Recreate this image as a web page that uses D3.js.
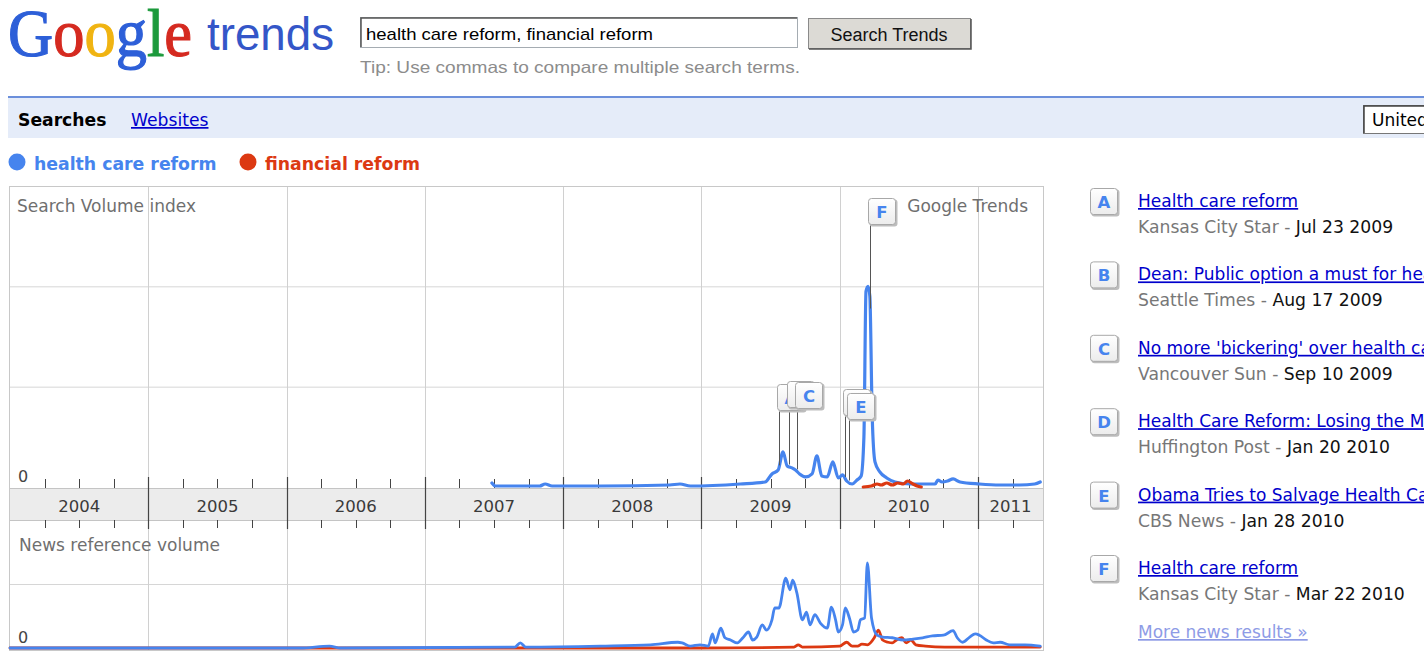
<!DOCTYPE html>
<html>
<head>
<meta charset="utf-8">
<script src="https://cdn.jsdelivr.net/npm/d3@7"></script>
<style>
  body { margin: 0; background: #fff; overflow: hidden; }
  svg { display: block; }
</style>
</head>
<body>
<svg id="page" width="1424" height="652"></svg>
<script>
// ---- data (dates as decimal years) ----
const years = [2004, 2005, 2006, 2007, 2008, 2009, 2010, 2011];
const seriesNames = ["health care reform", "financial reform"];

// search volume index
const searchHealthDates = [2007.485, 2007.51, 2007.83, 2007.87, 2007.92, 2008.27, 2008.77, 2008.845, 2008.92, 2009.28,
  2009.46, 2009.51, 2009.555, 2009.59, 2009.62, 2009.655, 2009.68, 2009.71, 2009.755, 2009.80,
  2009.835, 2009.87, 2009.91, 2009.95, 2009.99, 2010.02, 2010.05, 2010.09, 2010.125, 2010.155,
  2010.175, 2010.19, 2010.205, 2010.218, 2010.235, 2010.255, 2010.29, 2010.34, 2010.40, 2010.51,
  2010.69, 2010.71, 2010.74, 2010.78, 2010.82, 2010.87, 2011.01, 2011.16, 2011.30, 2011.41, 2011.45];
const searchHealthValues = [0.04, 0.01, 0.01, 0.03, 0.01, 0.01, 0.02, 0.03, 0.01, 0.03,
  0.05, 0.13, 0.17, 0.35, 0.21, 0.19, 0.17, 0.13, 0.10, 0.13,
  0.31, 0.11, 0.10, 0.25, 0.09, 0.12, 0.06, 0.03, 0.07, 0.11,
  0.5, 1.95, 2.0, 1.9, 0.7, 0.25, 0.15, 0.09, 0.05, 0.03,
  0.03, 0.07, 0.05, 0.06, 0.08, 0.05, 0.03, 0.02, 0.02, 0.03, 0.05];
const searchFinanceDates = [2010.17, 2010.23, 2010.27, 2010.30, 2010.34, 2010.38, 2010.42, 2010.46, 2010.49, 2010.53, 2010.56, 2010.59];
const searchFinanceValues = [0.0, 0.01, 0.03, 0.02, 0.04, 0.02, 0.04, 0.03, 0.06, 0.03, 0.01, 0.0];

// news reference volume
const newsHealthDates = [2004.0, 2006.1, 2006.31, 2006.39, 2007.65, 2007.69, 2007.73, 2008.27, 2008.63, 2008.83,
  2008.86, 2008.92, 2008.99, 2009.05, 2009.08, 2009.10, 2009.14, 2009.17, 2009.21, 2009.26,
  2009.30, 2009.34, 2009.37, 2009.40, 2009.44, 2009.47, 2009.51, 2009.53, 2009.56, 2009.61,
  2009.64, 2009.66, 2009.69, 2009.73, 2009.76, 2009.785, 2009.82, 2009.86, 2009.91, 2009.94,
  2009.97, 2009.99, 2010.02, 2010.04, 2010.07, 2010.10, 2010.13, 2010.15, 2010.18, 2010.20,
  2010.23, 2010.27, 2010.31, 2010.38, 2010.46, 2010.53, 2010.60, 2010.67, 2010.75, 2010.82,
  2010.85, 2010.89, 2010.94, 2010.98, 2011.01, 2011.06, 2011.11, 2011.16, 2011.23, 2011.34, 2011.45];
const newsHealthValues = [0, 0, 0.03, 0, 0.015, 0.08, 0.015, 0.03, 0.05, 0.09,
  0.08, 0.03, 0.05, 0.03, 0.22, 0.08, 0.31, 0.16, 0.125, 0.08,
  0.16, 0.25, 0.125, 0.17, 0.36, 0.28, 0.44, 0.625, 0.625, 1.09,
  0.91, 1.06, 0.86, 0.44, 0.56, 0.36, 0.52, 0.39, 0.31, 0.64,
  0.44, 0.25, 0.36, 0.625, 0.47, 0.25, 0.28, 0.44, 0.47, 1.33,
  0.47, 0.2, 0.17, 0.16, 0.125, 0.14, 0.16, 0.19, 0.2, 0.27,
  0.16, 0.09, 0.17, 0.22, 0.2, 0.125, 0.08, 0.09, 0.05, 0.05, 0.03];
const newsFinanceDates = [2004.0, 2008.99, 2009.67, 2009.70, 2009.73, 2010.0, 2010.05, 2010.09, 2010.13, 2010.16,
  2010.20, 2010.25, 2010.28, 2010.31, 2010.35, 2010.38, 2010.41, 2010.45, 2010.48, 2010.515,
  2010.55, 2010.62, 2010.76, 2011.45];
const newsFinanceValues = [0, 0, 0.015, 0.05, 0.015, 0.03, 0.09, 0.03, 0.03, 0.06,
  0.05, 0.16, 0.28, 0.125, 0.09, 0.08, 0.125, 0.16, 0.08, 0.125,
  0.05, 0.03, 0.015, 0.015];

// news events
const newsLetters = ["A", "B", "C", "D", "E", "F"];
const newsDates = [2009.56, 2009.63, 2009.69, 2010.04, 2010.07, 2010.22];
const newsTitles = ["Health care reform", "Dean: Public option a must for health care reform",
  "No more 'bickering' over health care", "Health Care Reform: Losing the Middle",
  "Obama Tries to Salvage Health Care Reform", "Health care reform"];
const newsSources = ["Kansas City Star", "Seattle Times", "Vancouver Sun", "Huffington Post", "CBS News", "Kansas City Star"];
const newsDays = ["Jul 23 2009", "Aug 17 2009", "Sep 10 2009", "Jan 20 2010", "Jan 28 2010", "Mar 22 2010"];

// ---- layout ----
const BLUE = "#4684ee", RED = "#dc3912";
const FONT = "'DejaVu Sans', Verdana, sans-serif";
const ARIAL = "'Liberation Sans', Arial, sans-serif";
const left = 10, right = 1043;
const top1 = 186, base1 = 487;   // search chart
const band0 = 488, band1 = 520;  // year band
const base2 = 648, bottom = 650; // news chart
const markerBoxTop = [384, 381, 382, 389, 393, 198];

const svg = d3.select("#page");

// ---- header ----
const logo = svg.append("text")
    .attr("x", 8).attr("y", 56)
    .attr("font-family", "'Liberation Serif', 'DejaVu Serif', serif")
    .attr("font-size", 68)
    .attr("stroke-width", 1.2)
    .attr("textLength", 184).attr("lengthAdjust", "spacingAndGlyphs");
const logoColors = ["#2d5fd8", "#d52a20", "#f0b412", "#2d5fd8", "#1c9a3c", "#d52a20"];
"Google".split("").forEach((c, i) => logo.append("tspan")
    .attr("fill", logoColors[i]).attr("stroke", logoColors[i]).text(c));

svg.append("text")
    .attr("x", 207).attr("y", 50)
    .attr("font-family", ARIAL).attr("font-size", 46)
    .attr("fill", "#3456c8")
    .attr("textLength", 127).attr("lengthAdjust", "spacingAndGlyphs")
    .text("trends");

// search box
svg.append("rect").attr("x", 360.5).attr("y", 17.5).attr("width", 437).attr("height", 30)
    .attr("fill", "#fff").attr("stroke", "#a5acb2");
svg.append("path").attr("d", "M361,47 V18 H797").attr("fill", "none").attr("stroke", "#555").attr("stroke-width", 1.5);
svg.append("text").attr("x", 366).attr("y", 40)
    .attr("font-family", ARIAL).attr("font-size", 17)
    .attr("textLength", 287).attr("lengthAdjust", "spacingAndGlyphs")
    .text("health care reform, financial reform");

// button
svg.append("rect").attr("x", 808.5).attr("y", 18.5).attr("width", 162).attr("height", 30)
    .attr("fill", "#dcdad5").attr("stroke", "#8a8a8a");
svg.append("path").attr("d", "M809,49 H971 V19").attr("fill", "none").attr("stroke", "#555").attr("stroke-width", 1.5);
svg.append("text").attr("x", 889).attr("y", 41).attr("text-anchor", "middle")
    .attr("font-family", ARIAL).attr("font-size", 18).attr("fill", "#111")
    .text("Search Trends");

svg.append("text").attr("x", 360).attr("y", 73)
    .attr("font-family", ARIAL).attr("font-size", 16.5).attr("fill", "#8c8c8c")
    .attr("textLength", 440).attr("lengthAdjust", "spacingAndGlyphs")
    .text("Tip: Use commas to compare multiple search terms.");

// tab bar
svg.append("rect").attr("x", 8).attr("y", 98).attr("width", 1416).attr("height", 40).attr("fill", "#e5ecf9");
svg.append("line").attr("x1", 8).attr("x2", 1424).attr("y1", 97).attr("y2", 97).attr("stroke", "#6b8fdb").attr("stroke-width", 2);
svg.append("text").attr("x", 18).attr("y", 126)
    .attr("font-family", FONT).attr("font-size", 17.2).attr("font-weight", "bold").text("Searches");
svg.append("text").attr("x", 131).attr("y", 126)
    .attr("font-family", FONT).attr("font-size", 17.2).attr("fill", "#0000cc")
    .attr("text-decoration", "underline").text("Websites");
svg.append("rect").attr("x", 1363.5).attr("y", 105.5).attr("width", 80).attr("height", 28)
    .attr("fill", "#fff").attr("stroke", "#777");
svg.append("path").attr("d", "M1364,133 V106 H1424").attr("fill", "none").attr("stroke", "#444").attr("stroke-width", 1.5);
svg.append("text").attr("x", 1372).attr("y", 126)
    .attr("font-family", FONT).attr("font-size", 17).text("United");

// legend
const legend = svg.append("g").selectAll("g")
    .data(seriesNames).enter().append("g")
    .attr("transform", (d, i) => "translate(" + [17, 248][i] + ",162)");
legend.append("circle").attr("r", 8.5).attr("fill", (d, i) => [BLUE, RED][i]);
legend.append("text").attr("x", 17).attr("y", 8)
    .attr("font-family", FONT).attr("font-size", 17.3).attr("font-weight", "bold")
    .attr("fill", (d, i) => [BLUE, RED][i])
    .text(d => d);

// ---- scales ----
const x = d3.scaleLinear().domain([2004, 2011.47]).range([left, right]);
const y1 = d3.scaleLinear().domain([0, 3]).range([base1, top1]);
const y2 = d3.scaleLinear().domain([0, 2]).range([base2, base2 - 128]);

const chart = svg.append("g");

// grid: horizontal
chart.selectAll(".h1").data([1, 2]).enter().append("line")
    .attr("x1", left).attr("x2", right)
    .attr("y1", d => y1(d) + 0.5).attr("y2", d => y1(d) + 0.5)
    .attr("stroke", "#d6d6d6");
chart.append("line")
    .attr("x1", left).attr("x2", right)
    .attr("y1", y2(1) + 0.5).attr("y2", y2(1) + 0.5)
    .attr("stroke", "#d6d6d6");

// grid: vertical at year boundaries
const inner = years.slice(1);
chart.selectAll(".v1").data(inner).enter().append("line")
    .attr("x1", d => Math.round(x(d)) + 0.5).attr("x2", d => Math.round(x(d)) + 0.5)
    .attr("y1", top1).attr("y2", 477).attr("stroke", "#d0d0d0");
chart.selectAll(".v2").data(inner).enter().append("line")
    .attr("x1", d => Math.round(x(d)) + 0.5).attr("x2", d => Math.round(x(d)) + 0.5)
    .attr("y1", 529).attr("y2", bottom).attr("stroke", "#d0d0d0");

// year band
chart.append("rect").attr("x", left).attr("y", band0).attr("width", right - left).attr("height", band1 - band0)
    .attr("fill", "#ececec");
chart.append("line").attr("x1", left).attr("x2", right).attr("y1", band0 + 0.5).attr("y2", band0 + 0.5).attr("stroke", "#c4c4c4");
chart.append("line").attr("x1", left).attr("x2", right).attr("y1", band1 + 0.5).attr("y2", band1 + 0.5).attr("stroke", "#c4c4c4");

chart.selectAll(".yl").data(years).enter().append("text")
    .attr("x", d => (x(d) + Math.min(x(d + 1), right)) / 2)
    .attr("y", 512)
    .attr("text-anchor", "middle")
    .attr("font-family", FONT).attr("font-size", 16.5).attr("fill", "#3a3a3a")
    .text(d => d);

chart.selectAll(".yb").data(inner).enter().append("line")
    .attr("x1", d => Math.round(x(d)) + 0.5).attr("x2", d => Math.round(x(d)) + 0.5)
    .attr("y1", 477).attr("y2", 529).attr("stroke", "#444").attr("stroke-width", 1.2);

// quarter ticks
const quarters = [];
years.forEach(yr => [0.25, 0.5, 0.75].forEach(q => { if (x(yr + q) < right) quarters.push(yr + q); }));
chart.selectAll(".qt").data(quarters).enter().append("line")
    .attr("x1", d => Math.round(x(d)) + 0.5).attr("x2", d => Math.round(x(d)) + 0.5)
    .attr("y1", 479).attr("y2", band0).attr("stroke", "#444");
chart.selectAll(".qb").data(quarters).enter().append("line")
    .attr("x1", d => Math.round(x(d)) + 0.5).attr("x2", d => Math.round(x(d)) + 0.5)
    .attr("y1", band1).attr("y2", 528).attr("stroke", "#444");

// frame
chart.append("rect").attr("x", left - 0.5).attr("y", top1 + 0.5)
    .attr("width", right - left + 1).attr("height", bottom - top1)
    .attr("fill", "none").attr("stroke", "#c8c8c8");

// labels
const label = (tx, ty, t, anchor) => chart.append("text")
    .attr("x", tx).attr("y", ty).attr("text-anchor", anchor || "start")
    .attr("font-family", FONT).attr("font-size", 17).attr("fill", "#6f6f6f").text(t);
label(17, 212, "Search Volume index");
label(1028, 212, "Google Trends", "end");
label(19, 551, "News reference volume");
label(18, 482, "0").attr("fill", "#444").attr("font-size", 16);
label(18, 643, "0").attr("fill", "#444").attr("font-size", 16);

// ---- lines ----
const zip = (xs, vs) => xs.map((d, i) => [d, vs[i]]);
const line1 = d3.line().x(d => x(d[0])).y(d => y1(d[1])).curve(d3.curveMonotoneX);
const line2 = d3.line().x(d => x(d[0])).y(d => y2(d[1])).curve(d3.curveMonotoneX);

const drawLine = (pts, gen, color, w) => chart.append("path")
    .attr("d", gen(pts)).attr("fill", "none")
    .attr("stroke", color).attr("stroke-width", w)
    .attr("stroke-linejoin", "round").attr("stroke-linecap", "round");

drawLine(zip(newsFinanceDates, newsFinanceValues), line2, RED, 2.8);
drawLine(zip(newsHealthDates, newsHealthValues), line2, BLUE, 2.8);
drawLine(zip(searchHealthDates, searchHealthValues), line1, BLUE, 3.2);
drawLine(zip(searchFinanceDates, searchFinanceValues), line1, RED, 3.2);

// ---- news markers ----
const valueAt = dt => {
    const i = d3.bisectLeft(searchHealthDates, dt);
    const a = searchHealthDates[i - 1], b = searchHealthDates[i];
    const t = (dt - a) / (b - a);
    return searchHealthValues[i - 1] * (1 - t) + searchHealthValues[i] * t;
};

const defs = svg.append("defs");
const grad = defs.append("linearGradient").attr("id", "boxfill").attr("x1", 0).attr("x2", 0).attr("y1", 0).attr("y2", 1);
grad.append("stop").attr("offset", "0%").attr("stop-color", "#ffffff");
grad.append("stop").attr("offset", "100%").attr("stop-color", "#ececec");

const drawBox = (g, bx, by, letter) => {
    g.append("rect").attr("x", bx + 1.5).attr("y", by + 1.5).attr("width", 28).attr("height", 27)
        .attr("rx", 3).attr("fill", "#bdbdbd");
    g.append("rect").attr("x", bx + 0.5).attr("y", by + 0.5).attr("width", 27).attr("height", 26)
        .attr("rx", 3).attr("fill", "url(#boxfill)").attr("stroke", "#a8a8a8");
    g.append("text").attr("x", bx + 14).attr("y", by + 20).attr("text-anchor", "middle")
        .attr("font-family", FONT).attr("font-size", 16.5).attr("font-weight", "bold")
        .attr("fill", BLUE).text(letter);
};

const markers = chart.append("g");
newsLetters.forEach((l, i) => {
    const lx = Math.round(x(newsDates[i])) + 0.5;
    markers.append("line")
        .attr("x1", lx).attr("x2", lx)
        .attr("y1", markerBoxTop[i] + 27).attr("y2", y1(valueAt(newsDates[i])) - 2)
        .attr("stroke", "#555").attr("stroke-width", 1);
});
newsLetters.forEach((l, i) => drawBox(markers, Math.round(x(newsDates[i])) - 2, markerBoxTop[i], l));

// ---- news list on the right ----
const list = svg.append("g");
newsLetters.forEach((l, i) => {
    const ty = 200 + i * 73.4;
    drawBox(list, 1090, ty - 12, l);
    list.append("text").attr("x", 1138).attr("y", ty + 7)
        .attr("font-family", FONT).attr("font-size", 17).attr("fill", "#0000cc")
        .attr("text-decoration", "underline").text(newsTitles[i]);
    const src = list.append("text").attr("x", 1138).attr("y", ty + 33)
        .attr("font-family", FONT).attr("font-size", 17.2);
    src.append("tspan").attr("fill", "#777").text(newsSources[i] + " - ");
    src.append("tspan").attr("fill", "#111").text(newsDays[i]);
});
list.append("text").attr("x", 1138).attr("y", 638)
    .attr("font-family", FONT).attr("font-size", 17).attr("fill", "#8e9be6")
    .attr("text-decoration", "underline").text("More news results »");
</script>
</body>
</html>
